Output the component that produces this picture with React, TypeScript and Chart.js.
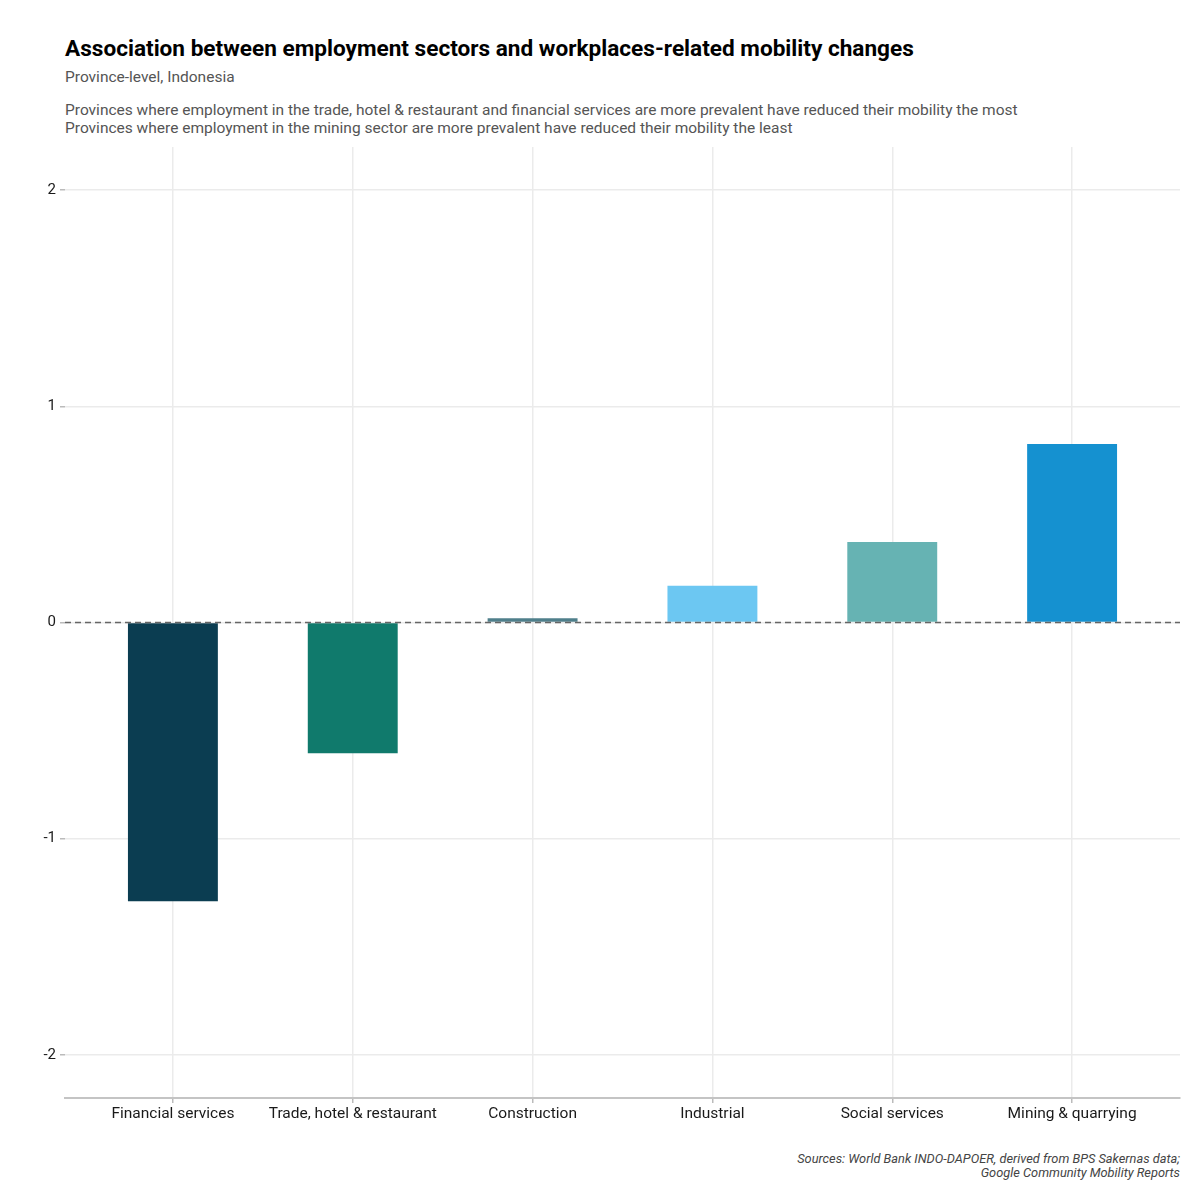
import { Chart, ChartConfiguration, registerables } from "chart.js";
import { useEffect, useRef } from "react";

Chart.register(...registerables);

const sectors = [
  "Financial services",
  "Trade, hotel & restaurant",
  "Construction",
  "Industrial",
  "Social services",
  "Mining & quarrying",
];
const coefficients = [-1.29, -0.605, 0.02, 0.17, 0.372, 0.826];
const barColors = ["#0b3d51", "#107a6c", "#4f7f8b", "#6cc7f2", "#66b3b3", "#1591d0"];
const yTicks = [-2, -1, 0, 1, 2];

const FONT = "Roboto, 'Noto Sans', sans-serif";

const zeroLine = {
  id: "zeroLine",
  afterDatasetsDraw(chart: Chart) {
    const { ctx, chartArea, scales } = chart;
    const y = scales.y.getPixelForValue(0);
    ctx.save();
    ctx.strokeStyle = "#666666";
    ctx.lineWidth = 1.3;
    ctx.setLineDash([6, 4]);
    ctx.beginPath();
    ctx.moveTo(chartArea.left, y);
    ctx.lineTo(chartArea.right, y);
    ctx.stroke();
    ctx.restore();
  },
};

const SectorChart = () => {
  const chartRef = useRef<HTMLCanvasElement>(null);
  const chartInstance = useRef<Chart | null>(null);

  useEffect(() => {
    if (!chartRef.current) return;
    if (chartInstance.current) chartInstance.current.destroy();

    const config: ChartConfiguration<"bar"> = {
      type: "bar",
      data: {
        datasets: [
          {
            data: coefficients.map((v, i) => ({ x: i, y: v })),
            backgroundColor: barColors,
            borderWidth: 0,
            barPercentage: 0.5,
            categoryPercentage: 1,
          },
        ],
      },
      plugins: [zeroLine],
      options: {
        responsive: false,
        animation: false,
        layout: { padding: { right: 20 } },
        plugins: {
          legend: { display: false },
          tooltip: { enabled: false },
        },
        scales: {
          x: {
            type: "linear",
            offset: false,
            min: -0.6,
            max: 5.6,
            afterBuildTicks: (axis) => {
              axis.ticks = sectors.map((_, i) => ({ value: i }));
            },
            afterFit: (axis) => {
              axis.height = 30;
            },
            ticks: {
              callback: (value) => sectors[Number(value)] ?? "",
              color: "#1a1a1a",
              font: { family: FONT, size: 15.5 },
              padding: 2,
              maxRotation: 0,
              autoSkip: false,
            },
            grid: {
              offset: false,
              color: "#ebebeb",
              lineWidth: 1.5,
              tickColor: "#bbbbbb",
              tickLength: 5,
            },
            border: { display: true, color: "#c4c4c4", width: 2 },
          },
          y: {
            type: "linear",
            min: -2.2,
            max: 2.2,
            afterBuildTicks: (axis) => {
              axis.ticks = yTicks.map((v) => ({ value: v }));
            },
            afterFit: (axis) => {
              axis.width = 65;
            },
            ticks: {
              color: "#1a1a1a",
              font: { family: FONT, size: 15 },
              padding: 4,
            },
            grid: {
              color: "#ebebeb",
              lineWidth: 1.5,
              tickColor: "#bbbbbb",
              tickLength: 5,
            },
            border: { display: false },
          },
        },
      },
    };

    chartInstance.current = new Chart(chartRef.current, config);
    return () => {
      if (chartInstance.current) {
        chartInstance.current.destroy();
        chartInstance.current = null;
      }
    };
  }, []);

  return (
    <canvas
      ref={chartRef}
      width={1200}
      height={994}
      style={{ position: "absolute", left: 0, top: 134, width: 1200, height: 994 }}
    />
  );
};

export default function App() {
  return (
    <div
      style={{
        position: "fixed",
        left: 0,
        top: 0,
        width: 1200,
        height: 1200,
        background: "#ffffff",
        fontFamily: FONT,
      }}
    >
      <div
        style={{
          position: "absolute",
          left: 65,
          top: 35,
          fontSize: 22.6,
          fontWeight: 700,
          color: "#000000",
          whiteSpace: "nowrap",
        }}
      >
        Association between employment sectors and workplaces-related mobility changes
      </div>
      <div
        style={{
          position: "absolute",
          left: 65,
          top: 68,
          fontSize: 15.5,
          color: "#555555",
          whiteSpace: "nowrap",
        }}
      >
        Province-level, Indonesia
      </div>
      <div
        style={{
          position: "absolute",
          left: 65,
          top: 101,
          fontSize: 15.5,
          lineHeight: "18px",
          color: "#555555",
          whiteSpace: "nowrap",
        }}
      >
        Provinces where employment in the trade, hotel &amp; restaurant and financial services are more prevalent have reduced their mobility the most
        <br />
        Provinces where employment in the mining sector are more prevalent have reduced their mobility the least
      </div>
      <SectorChart />
      <div
        style={{
          position: "absolute",
          right: 20,
          top: 1152,
          fontSize: 12.8,
          lineHeight: "13.5px",
          fontStyle: "italic",
          color: "#444444",
          textAlign: "right",
          whiteSpace: "nowrap",
        }}
      >
        Sources: World Bank INDO-DAPOER, derived from BPS Sakernas data;
        <br />
        Google Community Mobility Reports
      </div>
    </div>
  );
}
